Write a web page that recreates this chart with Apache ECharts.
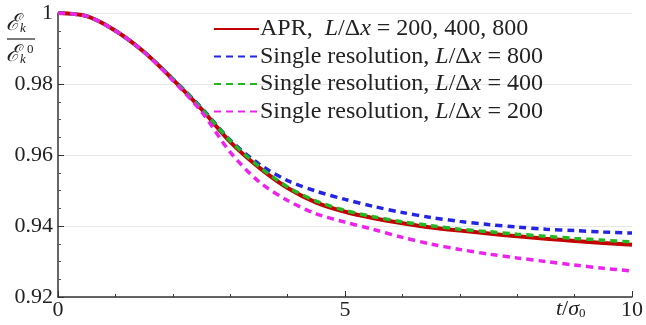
<!DOCTYPE html>
<html>
<head>
<meta charset="utf-8">
<script src="https://cdn.jsdelivr.net/npm/echarts@6/dist/echarts.min.js"></script>
<style>
  html, body { margin: 0; padding: 0; background: #fff; }
  #chart { width: 646px; height: 325px; }
</style>
</head>
<body>
<div id="chart"></div>
<script>
// Normalised kinetic energy decay vs. time
const times = [0, 0.5, 1.0, 1.5, 2.0, 2.5, 3.0, 3.5, 4.0, 4.5, 5.0, 5.5, 6.0, 6.5, 7.0, 7.5, 8.0, 8.5, 9.0, 9.5, 10.0];

const aprValues = [1.0, 0.9991, 0.995, 0.989, 0.9813, 0.9729, 0.9637, 0.9565, 0.9507, 0.9466, 0.944, 0.9422, 0.9408, 0.9396, 0.9387, 0.9379, 0.9371, 0.9364, 0.9358, 0.9352, 0.9347];
const single800 = [1.0, 0.9991, 0.995, 0.989, 0.9815, 0.9733, 0.9642, 0.9575, 0.9528, 0.9498, 0.9475, 0.9455, 0.9438, 0.9424, 0.9413, 0.9404, 0.9397, 0.9391, 0.9387, 0.9383, 0.938];
const single400 = [1.0, 0.9991, 0.995, 0.989, 0.9814, 0.9731, 0.964, 0.9568, 0.951, 0.947, 0.9444, 0.9426, 0.9412, 0.9401, 0.9391, 0.9384, 0.9377, 0.9371, 0.9365, 0.936, 0.9355];
const single200 = [1.0, 0.9991, 0.995, 0.989, 0.981, 0.9722, 0.9608, 0.9525, 0.9472, 0.9434, 0.9411, 0.939, 0.9368, 0.9349, 0.9334, 0.9321, 0.931, 0.93, 0.929, 0.9281, 0.9273];

const seriesNames = ['APR', 'S800', 'S400', 'S200'];
const seriesValues = [aprValues, single800, single400, single200];
const xTicks = [0, 5, 10];
const yTicks = [0.92, 0.94, 0.96, 0.98, 1];

const legendText = {
  APR: '{r|APR,  }{i|L}{r|/Δ}{i|x}{r| = 200, 400, 800}',
  S800: '{r|Single resolution, }{i|L}{r|/Δ}{i|x}{r| = 800}',
  S400: '{r|Single resolution, }{i|L}{r|/Δ}{i|x}{r| = 400}',
  S200: '{r|Single resolution, }{i|L}{r|/Δ}{i|x}{r| = 200}'
};

const styles = [
  { color: '#c40000', width: 4, type: 'solid' },
  { color: '#2424e6', width: 3.5, type: [7, 5] },
  { color: '#22b822', width: 3.5, type: [7, 5] },
  { color: '#ee22ee', width: 3.5, type: [7, 5] }
];

const serif = '"Liberation Serif", "DejaVu Serif", serif';
const legendSize = 24;

const chart = echarts.init(document.getElementById('chart'), null, { renderer: 'canvas' });

chart.setOption({
  animation: false,
  backgroundColor: '#fff',
  grid: { left: 58, right: 13, top: 13, bottom: 28, containLabel: false },
  xAxis: {
    type: 'value', min: 0, max: 10, interval: 5,
    axisLine: { lineStyle: { color: '#333', width: 1.5 } },
    axisTick: { inside: true, length: 6, lineStyle: { color: '#333' } },
    minorTick: { show: true, splitNumber: 5, length: 3, lineStyle: { color: '#333' } },
    splitLine: { show: false },
    axisLabel: {
      margin: 2, color: '#222', fontFamily: serif, fontSize: 22,
      formatter: v => xTicks.includes(v) ? String(v) : ''
    }
  },
  yAxis: {
    type: 'value', min: 0.92, max: 1, interval: 0.02,
    axisLine: { show: true, lineStyle: { color: '#333', width: 1.5 } },
    axisTick: { show: true, inside: true, length: 6, lineStyle: { color: '#333' } },
    minorTick: { show: true, splitNumber: 4, length: 3, lineStyle: { color: '#555' } },
    splitLine: { show: true, lineStyle: { color: '#e6e6e6', width: 1 } },
    axisLabel: {
      margin: 5, color: '#222', fontFamily: serif, fontSize: 22,
      formatter: v => {
        const t = yTicks.find(y => Math.abs(y - v) < 1e-6);
        if (t === undefined) return '';
        return t === 1 ? '1' : t.toFixed(2);
      }
    }
  },
  legend: {
    orient: 'vertical', left: 213, top: 17, padding: 0,
    itemWidth: 45, itemHeight: 12, itemGap: 3.5,
    data: seriesNames,
    itemStyle: { opacity: 0 },
    formatter: name => legendText[name],
    textStyle: {
      color: '#222', fontFamily: serif, fontSize: legendSize, lineHeight: 24, padding: [0, 0, 0, -4],
      rich: {
        r: { fontFamily: serif, fontSize: legendSize, lineHeight: 24, color: '#222' },
        i: { fontFamily: serif, fontSize: legendSize, lineHeight: 24, fontStyle: 'italic', color: '#222' }
      }
    }
  },
  series: seriesNames.map((name, k) => ({
    name: name,
    type: 'line',
    smooth: 0.3,
    symbol: 'none',
    data: times.map((t, i) => [t, seriesValues[k][i]]),
    lineStyle: { color: styles[k].color, width: styles[k].width, type: styles[k].type, cap: 'butt' },
    itemStyle: { color: styles[k].color },
    z: 2 + k
  })),
  graphic: [
    // y-axis title: E_k / E_k^0
    { type: 'text', left: 6, top: 12, style: { text: '{e|ℰ}{s|k}', rich: { e: { fontFamily: serif, fontSize: 23, fontStyle: 'italic', fill: '#222' }, s: { fontFamily: serif, fontSize: 13, fontStyle: 'italic', fill: '#222', padding: [10, 0, 0, 0] } } } },
    { type: 'line', shape: { x1: 7, y1: 39, x2: 35, y2: 39 }, style: { stroke: '#222', lineWidth: 1.2 } },
    { type: 'text', left: 6, top: 43, style: { text: '{e|ℰ}{s|k}', rich: { e: { fontFamily: serif, fontSize: 23, fontStyle: 'italic', fill: '#222' }, s: { fontFamily: serif, fontSize: 13, fontStyle: 'italic', fill: '#222', padding: [10, 0, 0, 0] } } } },
    { type: 'text', left: 27, top: 43, style: { text: '0', font: '13px ' + serif, fill: '#222' } },
    // x-axis title: t / sigma_0
    { type: 'text', left: 556, top: 298, style: { text: '{i|t}{r|/}{i|σ}{s|0}', rich: { i: { fontFamily: serif, fontSize: 22, fontStyle: 'italic', fill: '#222' }, r: { fontFamily: serif, fontSize: 22, fill: '#222' }, s: { fontFamily: serif, fontSize: 13, fill: '#222', padding: [10, 0, 0, 0] } } } }
  ]
});
</script>
</body>
</html>
